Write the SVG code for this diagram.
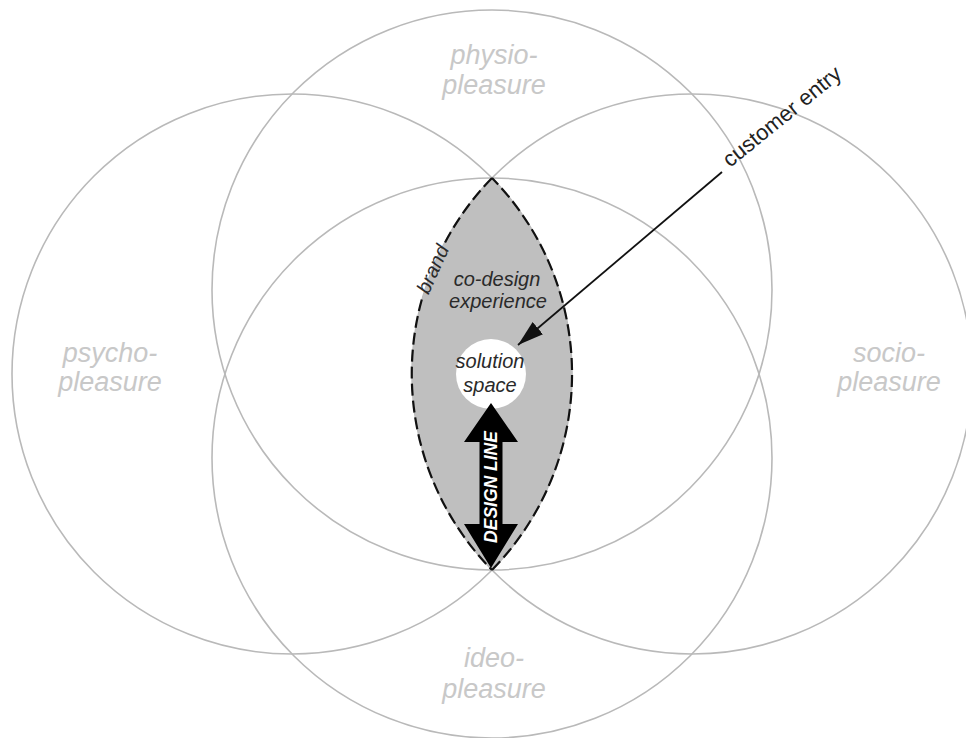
<svg xmlns="http://www.w3.org/2000/svg" width="966" height="738" viewBox="0 0 966 738">
<style>
.circ{fill:none;stroke:#b9b9b9;stroke-width:1.6}
.pl{font-family:"Liberation Sans",Arial,sans-serif;font-style:italic;font-size:27px;fill:#c8c8c8;text-anchor:middle}
.lbl{font-family:"Liberation Sans",Arial,sans-serif;font-style:italic;font-size:20px;fill:#2a2a2a;text-anchor:middle}
.dash{fill:none;stroke:#111;stroke-width:2.2;stroke-dasharray:12 5}
</style>
<defs>
<marker id="ah" markerUnits="userSpaceOnUse" markerWidth="28" markerHeight="20" refX="26" refY="10" orient="auto">
<path d="M0,2 L26,10 L0,18 Z" fill="#111"/>
</marker>
</defs>
<rect width="966" height="738" fill="#fff"/>
<g id="physio"><circle class="circ" cx="492" cy="290" r="280"/><text class="pl" x="494" y="64">physio-</text><text class="pl" x="494" y="94">pleasure</text></g>
<g id="psycho"><circle class="circ" cx="292" cy="374" r="280"/><text class="pl" x="110" y="362">psycho-</text><text class="pl" x="110" y="391">pleasure</text></g>
<g id="socio"><circle class="circ" cx="692" cy="374" r="280"/><text class="pl" x="889" y="362">socio-</text><text class="pl" x="889" y="391">pleasure</text></g>
<g id="ideo"><circle class="circ" cx="492" cy="458" r="280"/><text class="pl" x="494" y="667">ideo-</text><text class="pl" x="494" y="698">pleasure</text></g>
<g id="lens">
<path d="M492,178 A280,280 0 0,0 492,570 A280,280 0 0,0 492,178 Z" fill="#bfbfbf"/>
<path class="dash" d="M492,178 A280,280 0 0,0 444.5,243.5"/>
<path class="dash" d="M421.8,299.5 A280,280 0 0,0 492,570"/>
<path class="dash" d="M492,570 A280,280 0 0,0 492,178"/>
<text class="lbl" transform="translate(439,272) rotate(-66)" x="0" y="0" style="font-size:20px">brand</text>
<text class="lbl" x="497" y="286">co-design</text>
<text class="lbl" x="498" y="308">experience</text>
</g>
<g id="solution">
<circle cx="491" cy="374" r="35" fill="#fff"/>
<text class="lbl" x="490" y="368">solution</text>
<text class="lbl" x="490" y="392">space</text>
</g>
<g id="designline">
<polygon points="491,403 518,442 502.5,442 502.5,524 518,524 491,568 464,524 479.5,524 479.5,442 464,442" fill="#000"/>
<text transform="translate(491,487) rotate(-90)" x="0" y="6" style="font-family:'Liberation Sans',Arial,sans-serif;font-weight:bold;font-style:italic;font-size:17.5px;fill:#fff;text-anchor:middle">DESIGN LINE</text>
</g>
<g id="connectors">
<line x1="722" y1="172" x2="518" y2="345" stroke="#111" stroke-width="1.8" marker-end="url(#ah)"/>
</g>
<g id="customer">
<text transform="translate(730,168) rotate(-39)" style="font-family:'Liberation Sans',Arial,sans-serif;font-size:22px;fill:#222">customer entry</text>
</g>
</svg>
